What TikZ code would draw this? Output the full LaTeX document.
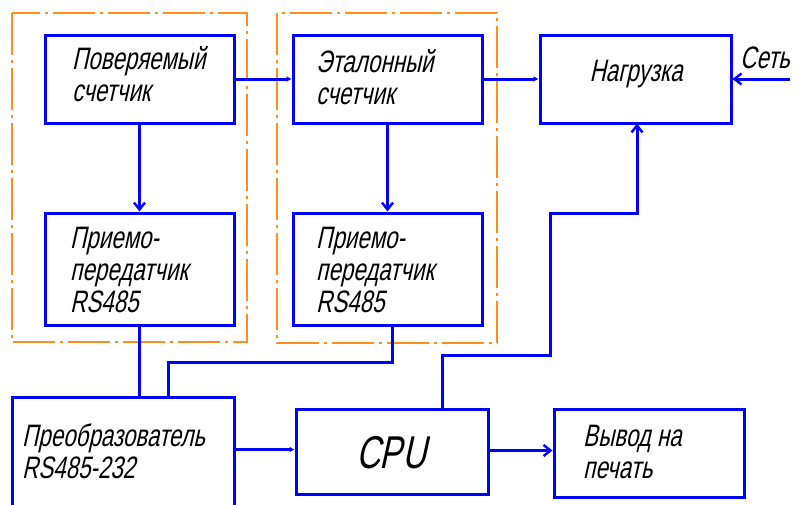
\documentclass[tikz,border=0pt]{standalone}
\usepackage{fontspec}
\setmainfont{Liberation Sans}[FakeSlant=0.22, FakeStretch=0.72]
\usetikzlibrary{arrows.meta}
\definecolor{frameor}{RGB}{255,140,30}
\definecolor{lineblue}{RGB}{0,0,255}
\tikzset{
  blk/.style={draw=lineblue, line width=3pt, rectangle, inner sep=0pt},
  grp/.style={draw=frameor, line width=1.4pt, dash pattern=on 42pt off 5pt on 3pt off 5pt},
  wire/.style={draw=lineblue, line width=3pt},
  txt/.style={anchor=base west, align=left, inner sep=0pt, font=\fontsize{31}{32}\selectfont},
  openarr/.style={wire, -{Straight Barb[length=7pt,width=11pt,line width=2.4pt]}},
  fillarr/.style={wire, -{Latex[length=5pt,width=6pt]}},
}
\begin{document}
\begin{tikzpicture}[x=1pt,y=-1pt]
\useasboundingbox (0,0) rectangle (797,504);
% group frames
\draw[grp] (12,13) rectangle (247,342);
\draw[grp] (277,13) rectangle (497,343);
% blocks
\node[blk, minimum width=189pt, minimum height=88pt] (pov) at (139.5,79) {};
\node[blk, minimum width=189pt, minimum height=88pt] (etl) at (387.5,79) {};
\node[blk, minimum width=191pt, minimum height=88pt] (nag) at (635.5,79) {};
\node[blk, minimum width=189pt, minimum height=112pt] (pp1) at (139.5,269) {};
\node[blk, minimum width=189pt, minimum height=112pt] (pp2) at (387.5,269) {};
\begin{scope}
\clip (0,0) rectangle (797,504);
\node[blk, minimum width=222pt, minimum height=130pt] (prb) at (123,462) {};
\end{scope}
\node[blk, minimum width=192pt, minimum height=85pt] (cpu) at (392,451.5) {};
\node[blk, minimum width=190pt, minimum height=88pt] (out) at (649,453.5) {};
% texts (base = baseline of last line)
\node[txt] (tpov) at (72,101) {Поверяемый\\счетчик};
\node[txt] (tetl) at (316,104) {Эталонный\\счетчик};
\node[txt, anchor=base] (tnag) at (636,81) {Нагрузка};
\node[txt] (tnet) at (740,68) {Сеть};
\node[txt] (tpp1) at (70,312) {Приемо-\\передатчик\\RS485};
\node[txt] (tpp2) at (316,312) {Приемо-\\передатчик\\RS485};
\node[txt] (tprb) at (22,478) {Преобразователь\\RS485-232};
\node[anchor=base, inner sep=0pt, font=\fontsize{46}{50}\selectfont] (tcpu) at (391,468) {CPU};
\node[txt] (tout) at (583,478) {Вывод на\\печать};
% connectors
\coordinate (netend) at (790,79);
\draw[fillarr] (pov.east) -- (etl.west);
\draw[fillarr] (etl.east) -- (nag.west);
\draw[openarr] (netend) -- (nag.east);
\draw[openarr] (pov.south) -- (pp1.north);
\draw[openarr] (etl.south) -- (pp2.north);
\draw[wire] (pp1.south) -- (pp1.south |- prb.north);
\draw[wire] ([xshift=4.5pt]pp2.south) -- ++(0,36) -| ([xshift=45pt]prb.north);
\draw[openarr] ([xshift=50pt]cpu.north) -- ++(0,-52) -- ++(108,0) |- (637,213) -- (637,123.5);
\draw[fillarr] ([yshift=2pt]prb.east |- cpu.west) -- ([yshift=2pt]cpu.west);
\draw[openarr] ([yshift=1pt]cpu.east) -- ([yshift=1pt]cpu.east -| out.west);
\end{tikzpicture}
\end{document}
